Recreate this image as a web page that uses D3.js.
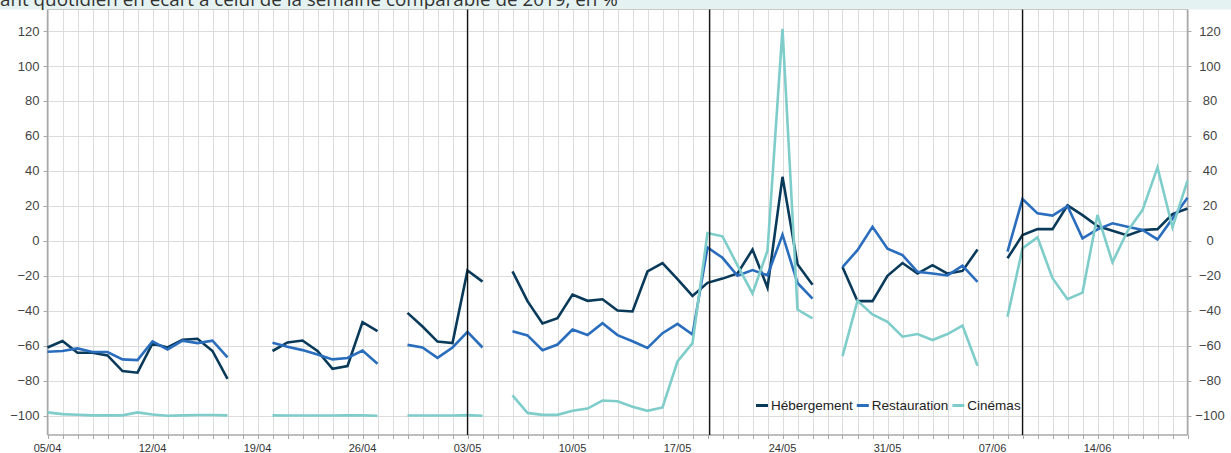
<!DOCTYPE html>
<html><head><meta charset="utf-8">
<script src="https://cdn.jsdelivr.net/npm/d3@7"></script>
<style>
html,body{margin:0;padding:0;background:#fff;}
svg{display:block;}
text{font-family:"Liberation Sans",Arial,Helvetica,sans-serif;}
</style></head>
<body>
<svg id="chart" width="1231" height="453"></svg>
<script>
// ---- data ----
const startDate = "2020-04-05";
const endDate = "2020-06-20";
const seriesNames = ["Hébergement", "Restauration", "Cinémas"];
const eventDates = ["2020-05-03T00:00Z", "2020-05-19T03:30Z", "2020-06-09T00:00Z"];
const xTickDates = ["2020-04-05","2020-04-12","2020-04-19","2020-04-26","2020-05-03","2020-05-10","2020-05-17","2020-05-24","2020-05-31","2020-06-07","2020-06-14"];
const yTicks = [-100,-80,-60,-40,-20,0,20,40,60,80,100,120];
const title = "ant quotidien en écart à celui de la semaine comparable de 2019, en %";

const hebergement = [
 -61,-57.3,-64,-64,-65.5,-74.5,-75.4,-58.7,-61,-56.6,-56,-63,-79,
 null,null,
 -63,-58.1,-57,-63,-73.2,-71.6,-46.5,-51.6,
 null,
 -41.2,-49,-57.6,-58.5,-17,-23.3,
 null,
 -17.5,-34.5,-47.3,-44.2,-30.7,-34.3,-33.4,-39.8,-40.4,-17.5,-12.8,-21.9,-31.5,-24,-21.6,-18.7,-5,-26.8,36.6,-13.4,-25.1,
 null,
 -15,-34.5,-34.5,-20,-12.7,-18.7,-13.9,-18.7,-17.2,-5,
 null,
 -10,3.3,6.7,6.7,20.3,14.7,8.5,5.8,3.1,6.2,6.7,15.3,18.5
];
const restauration = [
 -63.4,-63,-61.5,-63.6,-63.6,-67.8,-68.2,-57.5,-62.1,-57.1,-58.5,-57.1,-66.7,
 null,null,
 -58.3,-60.6,-62.5,-65,-67.8,-67,-62.7,-70.3,
 null,
 -59.5,-61,-66.9,-61,-52,-61,
 null,
 -51.7,-54.1,-62.5,-59.3,-50.7,-53.9,-47.1,-53.9,-57.4,-61.2,-52.8,-47.5,-53.6,-3.8,-9.7,-20,-16.7,-19.7,3.5,-24.1,-33.1,
 null,
 -15,-5.3,8,-4.5,-8.2,-17.7,-18.7,-19.8,-14.2,-23.5,
 null,
 -6.2,23.9,15.7,14.4,19.9,1.4,6.6,10,8.1,6.2,0.8,12.8,24.7
];
const cinemas = [
 -98.1,-99.1,-99.5,-99.8,-99.8,-99.8,-98.1,-99.3,-100,-99.8,-99.6,-99.6,-99.8,
 null,null,
 -99.8,-99.9,-99.9,-99.9,-99.9,-99.8,-99.8,-100,
 null,
 -99.9,-99.9,-99.9,-99.9,-99.7,-100,
 null,
 -88.4,-98.4,-99.5,-99.5,-97.2,-95.9,-91.3,-91.7,-94.9,-97.2,-95.3,-69,-58.5,4.5,2.6,-14,-30.1,-5.7,121.2,-39.3,-44.4,
 null,
 -65.9,-34.3,-42.1,-46.3,-54.8,-53.3,-56.7,-53.3,-48.5,-71.4,
 null,
 -43.4,-4.3,2,-21.4,-33.4,-29.6,14.8,-12.3,5.6,17.6,42,7.7,34.4
];
const seriesValues = [hebergement, restauration, cinemas];
const colors = ["#0a3a5a", "#2a6dbd", "#7fcdca"];

// ---- layout ----
const svg = d3.select("#chart");
const W = 1231, H = 453;
const plotLeft = 47.5, plotRight = 1187.5, plotTop = 9.5, plotBottom = 435;

const parse = d => new Date(d.length === 10 ? d + "T00:00Z" : d);
const days = d3.utcDay.range(parse(startDate), d3.utcDay.offset(parse(endDate), 1));
const x = d3.scaleUtc().domain([parse(startDate), parse(endDate)]).range([plotLeft, plotRight]);
const y = d3.scaleLinear().domain([-100, 120]).range([415.7, 31]);

// title band
svg.append("rect").attr("x",0).attr("y",0).attr("width",W).attr("height",plotTop).attr("fill","#e5f2f2");
const tt = svg.append("text").attr("x",0).attr("y",5.5).attr("fill","#333")
  .style("font-family","'Open Sans',sans-serif").style("font-size","16px").text(title);
const tl = tt.node().getComputedTextLength();
tt.style("font-size", (16*618/tl).toFixed(2)+"px");

// grid
const g = svg.append("g");
g.selectAll("line.vg").data(days).join("line")
  .attr("x1",d=>Math.round(x(d))+0.5).attr("x2",d=>Math.round(x(d))+0.5)
  .attr("y1",plotTop).attr("y2",plotBottom)
  .attr("stroke","#dcdcdc").attr("stroke-width",1);
g.selectAll("line.hg").data(yTicks).join("line")
  .attr("x1",plotLeft).attr("x2",plotRight)
  .attr("y1",d=>Math.round(y(d))+0.5).attr("y2",d=>Math.round(y(d))+0.5)
  .attr("stroke","#dcdcdc").attr("stroke-width",1);

// frame
svg.append("line").attr("x1",plotLeft).attr("x2",plotRight).attr("y1",plotTop).attr("y2",plotTop).attr("stroke","#c8c8c8").attr("stroke-width",1);
const axisColor = "#a8a8a8";
svg.append("line").attr("x1",plotLeft).attr("x2",plotLeft).attr("y1",plotTop).attr("y2",plotBottom).attr("stroke",axisColor).attr("stroke-width",1.5);
svg.append("line").attr("x1",plotRight).attr("x2",plotRight).attr("y1",plotTop).attr("y2",plotBottom).attr("stroke",axisColor).attr("stroke-width",1.5);
svg.append("line").attr("x1",plotLeft).attr("x2",plotRight).attr("y1",plotBottom).attr("y2",plotBottom).attr("stroke",axisColor).attr("stroke-width",1.5);

// x ticks (daily) and labels (weekly)
svg.selectAll("line.xt").data(days).join("line")
  .attr("x1",d=>Math.round(x(d))+0.5).attr("x2",d=>Math.round(x(d))+0.5)
  .attr("y1",plotBottom).attr("y2",plotBottom+4).attr("stroke",axisColor).attr("stroke-width",1);
const fmt = d3.utcFormat("%d/%m");
svg.selectAll("text.xl").data(xTickDates.map(parse)).join("text")
  .attr("x",d=>x(d)).attr("y",452).attr("text-anchor","middle")
  .attr("fill","#333").style("font-size","11px").text(d=>fmt(d));

// y ticks left and right
const yfmt = v => (v < 0 ? "\u2212" + Math.abs(v) : String(v));
svg.selectAll("line.ytl").data(yTicks).join("line")
  .attr("x1",plotLeft-4).attr("x2",plotLeft).attr("y1",d=>Math.round(y(d))+0.5).attr("y2",d=>Math.round(y(d))+0.5)
  .attr("stroke",axisColor);
svg.selectAll("line.ytr").data(yTicks).join("line")
  .attr("x1",plotRight).attr("x2",plotRight+4).attr("y1",d=>Math.round(y(d))+0.5).attr("y2",d=>Math.round(y(d))+0.5)
  .attr("stroke",axisColor);
svg.selectAll("text.yll").data(yTicks).join("text")
  .attr("x",39.5).attr("y",d=>y(d)).attr("dy","0.35em").attr("text-anchor","end")
  .attr("fill","#444").style("font-size","13px").text(yfmt);
svg.selectAll("text.ylr").data(yTicks).join("text")
  .attr("x",1210).attr("y",d=>y(d)).attr("dy","0.35em").attr("text-anchor","middle")
  .attr("fill","#444").style("font-size","13px").text(yfmt);

// series lines
const line = d3.line().defined(d=>d.v!==null).x(d=>x(d.date)).y(d=>y(d.v));
seriesValues.forEach((vals,i)=>{
  const pts = vals.map((v,j)=>({date:days[j], v:v}));
  svg.append("path").datum(pts).attr("d",line).attr("fill","none")
    .attr("stroke",colors[i]).attr("stroke-width",2.6).attr("stroke-linejoin","miter");
});

// event lines
svg.selectAll("line.ev").data(eventDates.map(parse)).join("line")
  .attr("x1",d=>x(d)).attr("x2",d=>x(d)).attr("y1",plotTop).attr("y2",plotBottom)
  .attr("stroke","#111").attr("stroke-width",1.3);

// legend
const leg = svg.append("g");
let lx = 756;
const ly = 405.5;
seriesNames.forEach((n,i)=>{
  leg.append("line").attr("x1",lx).attr("x2",lx+12).attr("y1",ly).attr("y2",ly)
    .attr("stroke",colors[i]).attr("stroke-width",3);
  const t = leg.append("text").attr("x",lx+15).attr("y",ly).attr("dy","0.35em")
    .attr("fill","#222").style("font-size","13.5px").text(n);
  lx += 15 + t.node().getComputedTextLength() + 4;
});
</script>
</body></html>
